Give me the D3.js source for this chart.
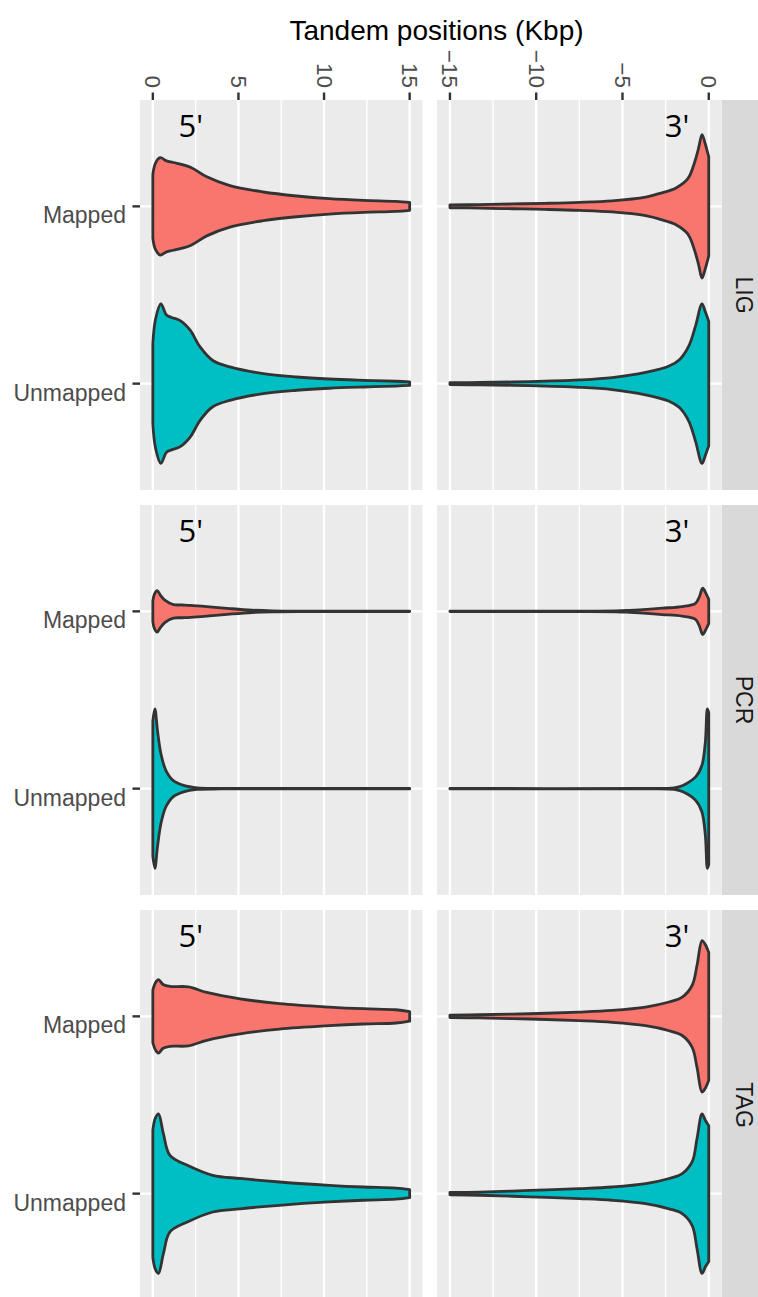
<!DOCTYPE html>
<html>
<head>
<meta charset="utf-8">
<script src="https://cdn.jsdelivr.net/npm/d3@7"></script>
<style>
html,body{margin:0;padding:0;background:#fff;}
svg{display:block;}
</style>
</head>
<body>
<svg id="chart" width="758" height="1297"></svg>
<script>
// ---------------- data ----------------
const rowsLabels = ["LIG", "PCR", "TAG"];
const categories = ["Mapped", "Unmapped"];
const endLabels = ["5'", "3'"];
const ticks5 = [0, 5, 10, 15];
const ticks3 = [-15, -10, -5, 0];
const axisTitle = "Tandem positions (Kbp)";

// violin outlines: [position (Kbp), relative half-width (1 = widest violin)]
const lig5Mapped = [[0,0.40],[0.15,0.54],[0.43,0.61],[0.8,0.57],[1.2,0.55],[2.2,0.49],[3.15,0.37],[4.5,0.26],[6.45,0.18],[8.4,0.13],[10.3,0.096],[12.3,0.075],[14.2,0.063],[15,0.05]];
const lig5Unmapped = [[0,0.5],[0.15,0.8],[0.47,1.0],[0.8,0.86],[1.1,0.83],[1.6,0.79],[2.18,0.67],[2.76,0.46],[3.5,0.29],[4.5,0.21],[6.45,0.125],[8.4,0.083],[10.3,0.058],[12.3,0.042],[14.2,0.03],[15,0.022]];
const lig3Mapped = [[-15,0.018],[-13.3,0.022],[-11.4,0.03],[-9.5,0.038],[-7.5,0.05],[-5.6,0.07],[-3.66,0.117],[-2.7,0.17],[-1.9,0.23],[-1.2,0.35],[-0.9,0.5],[-0.6,0.72],[-0.39,0.9],[-0.2,0.78],[0,0.62]];
const lig3Unmapped = [[-15,0.012],[-13.3,0.015],[-10.4,0.025],[-7.5,0.046],[-5.6,0.075],[-3.66,0.14],[-2.3,0.22],[-1.7,0.3],[-1.16,0.47],[-0.77,0.72],[-0.39,1.0],[-0.2,0.9],[0,0.78]];
const pcr5Mapped = [[0,0.13],[0.1,0.22],[0.25,0.26],[0.45,0.2],[0.7,0.14],[1.2,0.085],[1.7,0.08],[2.2,0.075],[3.15,0.06],[4.5,0.035],[5.8,0.015],[7,0.006],[9,0.003],[15,0.003]];
const pcr5Unmapped = [[0,0.85],[0.12,1.0],[0.27,0.73],[0.47,0.44],[0.76,0.23],[1.2,0.1],[1.8,0.04],[2.6,0.01],[4,0.004],[15,0.003]];
const pcr3Mapped = [[-15,0.003],[-8,0.003],[-5.4,0.005],[-4.6,0.012],[-3.6,0.025],[-2.7,0.04],[-1.54,0.06],[-0.77,0.1],[-0.55,0.18],[-0.35,0.29],[-0.15,0.22],[0,0.15]];
const pcr3Unmapped = [[-15,0.003],[-4,0.003],[-2,0.01],[-1.5,0.04],[-0.75,0.15],[-0.4,0.29],[-0.2,0.58],[-0.08,1.0],[0,0.95]];
const tag5Mapped = [[0,0.33],[0.15,0.42],[0.33,0.46],[0.6,0.4],[1.0,0.375],[2.08,0.37],[3.15,0.3],[5.1,0.22],[7.4,0.16],[10.3,0.117],[12.3,0.096],[14.2,0.083],[15,0.06]];
const tag5Unmapped = [[0,0.8],[0.15,0.95],[0.33,1.0],[0.62,0.75],[1.0,0.48],[2.08,0.35],[3.5,0.23],[5.1,0.19],[7.4,0.146],[10.3,0.104],[12.3,0.083],[14.2,0.07],[15,0.05]];
const tag3Mapped = [[-15,0.015],[-13.3,0.02],[-10.4,0.033],[-7.5,0.054],[-5.6,0.075],[-3.66,0.117],[-2.3,0.18],[-1.54,0.24],[-0.96,0.39],[-0.68,0.64],[-0.39,0.95],[-0.2,0.9],[0,0.8]];
const tag3Unmapped = [[-15,0.015],[-13.3,0.02],[-10.4,0.04],[-7.5,0.0625],[-5.6,0.083],[-3.66,0.125],[-2.3,0.19],[-1.54,0.25],[-0.96,0.4],[-0.68,0.69],[-0.39,1.0],[-0.2,0.92],[0,0.85]];

const violinTable = [
  [[lig5Mapped, lig5Unmapped], [lig3Mapped, lig3Unmapped]],
  [[pcr5Mapped, pcr5Unmapped], [pcr3Mapped, pcr3Unmapped]],
  [[tag5Mapped, tag5Unmapped], [tag3Mapped, tag3Unmapped]]
];

// ---------------- layout ----------------
const colors = {Mapped: "#F8766D", Unmapped: "#00BFC4"};
const rowTop = [100, 505, 910];
const rowH = 390;
const colX = [[140, 422.5], [437, 721.7]];
const stripX = 721.7;

const svg = d3.select("#chart");
const xScales = [
  d3.scaleLinear().domain([-0.75, 15.75]).range(colX[0]),
  d3.scaleLinear().domain([-15.75, 0.75]).range(colX[1])
];
const tickSets = [ticks5, ticks3];
const labelPos = [1.5, -2.55];

// title
svg.append("text").attr("x", 436.5).attr("y", 40)
  .attr("text-anchor", "middle").attr("font-family", "Liberation Sans, Arial, sans-serif")
  .attr("font-size", 28).attr("fill", "#000").text(axisTitle);

rowsLabels.forEach((rl, ri) => {
  const top = rowTop[ri];
  const yScale = d3.scalePoint().domain(categories).range([top, top + rowH]).padding(0.6);
  const maxHalf = 0.45 * yScale.step();

  // strip
  svg.append("rect").attr("x", stripX).attr("y", top).attr("width", 60).attr("height", rowH).attr("fill", "#D9D9D9");
  svg.append("text").attr("transform", `translate(744,${top + rowH / 2}) rotate(90)`)
    .attr("text-anchor", "middle").attr("dominant-baseline", "central")
    .attr("font-family", "Liberation Sans, Arial, sans-serif").attr("font-size", 23).attr("fill", "#1A1A1A").text(rl);

  [0, 1].forEach(ci => {
    const x = xScales[ci];
    const [x0, x1] = colX[ci];
    const g = svg.append("g");
    g.append("rect").attr("x", x0).attr("y", top).attr("width", x1 - x0).attr("height", rowH).attr("fill", "#EBEBEB");
    const ticks = tickSets[ci];
    // minor grid
    const minors = ticks.slice(0, -1).map((t, i) => (t + ticks[i + 1]) / 2);
    g.selectAll(".minor").data(minors).enter().append("line")
      .attr("x1", d => x(d)).attr("x2", d => x(d)).attr("y1", top).attr("y2", top + rowH)
      .attr("stroke", "#fff").attr("stroke-width", 1.4);
    g.selectAll(".major").data(ticks).enter().append("line")
      .attr("x1", d => x(d)).attr("x2", d => x(d)).attr("y1", top).attr("y2", top + rowH)
      .attr("stroke", "#fff").attr("stroke-width", 2.4);
    g.selectAll(".hgrid").data(categories).enter().append("line")
      .attr("x1", x0).attr("x2", x1).attr("y1", d => yScale(d)).attr("y2", d => yScale(d))
      .attr("stroke", "#fff").attr("stroke-width", 2.4);

    // violins
    categories.forEach((cat, k) => {
      const pts = violinTable[ri][ci][k];
      const yc = yScale(cat);
      const line = d3.line().curve(d3.curveCatmullRom.alpha(0.5));
      const upper = pts.map(p => [x(p[0]), yc - p[1] * maxHalf]);
      const lower = pts.slice().reverse().map(p => [x(p[0]), yc + p[1] * maxHalf]);
      const path = line(upper) + "L" + line(lower).slice(1) + "Z";
      g.append("path").attr("d", path).attr("fill", colors[cat])
        .attr("stroke", "#333333").attr("stroke-width", 2.8).attr("stroke-linejoin", "round");
    });

    // 5' / 3' label
    g.append("text").attr("x", x(labelPos[ci])).attr("y", top + 37)
      .attr("font-family", "Open Sans, Noto Sans, sans-serif").attr("font-size", 31).attr("fill", "#000")
      .text(endLabels[ci]);

    // top axis (first row only)
    if (ri === 0) {
      const ax = svg.append("g");
      ax.selectAll("line").data(ticks).enter().append("line")
        .attr("x1", d => x(d)).attr("x2", d => x(d)).attr("y1", top - 7.5).attr("y2", top)
        .attr("stroke", "#333333").attr("stroke-width", 2.4);
      ax.selectAll("text").data(ticks).enter().append("text")
        .attr("transform", d => `translate(${x(d)},${top - 12}) rotate(90)`)
        .attr("text-anchor", "end").attr("dominant-baseline", "central")
        .attr("font-family", "Liberation Sans, Arial, sans-serif").attr("font-size", 22.5).attr("fill", "#4D4D4D")
        .text(d => d < 0 ? "\u2212" + Math.abs(d) : d);
    }
  });

  // left category axis
  const ay = svg.append("g");
  ay.selectAll("line").data(categories).enter().append("line")
    .attr("x1", colX[0][0] - 7.5).attr("x2", colX[0][0]).attr("y1", d => yScale(d)).attr("y2", d => yScale(d))
    .attr("stroke", "#333333").attr("stroke-width", 2.4);
  ay.selectAll("text").data(categories).enter().append("text")
    .attr("x", 126).attr("y", d => yScale(d) + 17)
    .attr("text-anchor", "end")
    .attr("font-family", "Liberation Sans, Arial, sans-serif").attr("font-size", 23).attr("fill", "#4D4D4D")
    .text(d => d);
});
</script>
</body>
</html>
